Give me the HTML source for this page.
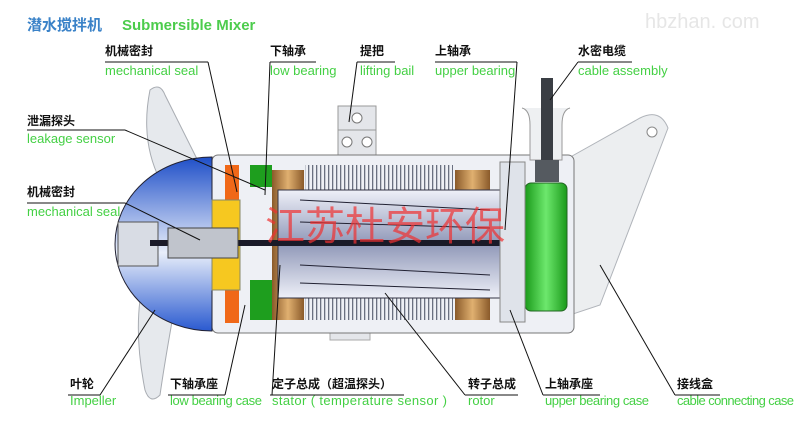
<!DOCTYPE html>
<html><head><meta charset="utf-8"><style>
html,body{margin:0;padding:0;background:#fff;}
svg{display:block}
.cn{font-family:"Liberation Sans","Noto Sans CJK SC",sans-serif;font-size:12px;font-weight:bold;fill:#111}
.en{font-family:"Liberation Sans",sans-serif;font-size:13px;fill:#44d044}
.ln{stroke:#111;stroke-width:1;fill:none}
</style></head><body>
<svg width="800" height="424" viewBox="0 0 800 424" xmlns="http://www.w3.org/2000/svg">
<defs>
<linearGradient id="blue" x1="0" y1="0" x2="0" y2="1">
<stop offset="0" stop-color="#1f4fc8"/><stop offset="0.55" stop-color="#e8eefa"/><stop offset="1" stop-color="#2a5ad0"/></linearGradient>
<linearGradient id="grn" x1="0" y1="0" x2="1" y2="0">
<stop offset="0" stop-color="#1a9a1a"/><stop offset="0.5" stop-color="#6de86d"/><stop offset="1" stop-color="#1a9a1a"/></linearGradient>
<linearGradient id="cu" x1="0" y1="0" x2="1" y2="0">
<stop offset="0" stop-color="#8a5a2a"/><stop offset="0.5" stop-color="#e0b070"/><stop offset="1" stop-color="#8a5a2a"/></linearGradient>
<linearGradient id="rot" x1="0" y1="0" x2="0" y2="1">
<stop offset="0" stop-color="#eef0f8"/><stop offset="0.5" stop-color="#9098b8"/><stop offset="1" stop-color="#eef0f8"/></linearGradient>
<pattern id="fin" width="4" height="10" patternUnits="userSpaceOnUse"><rect width="4" height="10" fill="#eef0f5"/><rect width="1.3" height="10" fill="#6a7080"/></pattern>
</defs>
<text x="645" y="28" font-family="Liberation Sans,sans-serif" font-size="20" fill="#e6e6e6">hbzhan. com</text>
<text x="27" y="30" font-family="Liberation Sans,'Noto Sans CJK SC',sans-serif" font-size="15" font-weight="bold" fill="#3a82c8">潜水搅拌机</text>
<text x="122" y="30" font-family="Liberation Sans,sans-serif" font-size="15" font-weight="bold" fill="#4ccc4c">Submersible Mixer</text>

<path d="M150,90 Q160,82 165,95 L200,165 L160,180 Q140,140 150,90Z" fill="#e6e9ed" stroke="#a8acb2"/>
<path d="M140,300 L175,305 Q165,360 160,395 Q150,405 145,390 Q135,340 140,300Z" fill="#e6e9ed" stroke="#a8acb2"/>
<path d="M565,160 L640,118 Q660,108 668,128 L600,305 L570,315Z" fill="#eceef0" stroke="#b0b4ba"/>
<circle cx="652" cy="132" r="5" fill="#fff" stroke="#888"/>
<rect x="338" y="106" width="38" height="50" fill="#e4e6ea" stroke="#999"/>
<line x1="338" y1="130" x2="376" y2="130" stroke="#999"/>
<circle cx="357" cy="118" r="5" fill="#fff" stroke="#777"/>
<circle cx="347" cy="142" r="5" fill="#fff" stroke="#777"/>
<circle cx="367" cy="142" r="5" fill="#fff" stroke="#777"/>
<rect x="330" y="330" width="40" height="10" fill="#e4e6ea" stroke="#aaa"/>
<rect x="212" y="155" width="362" height="178" rx="6" fill="#eef0f5" stroke="#777"/>
<path d="M212,157 A97,87 0 0 0 212,331 Z" fill="url(#blue)" stroke="#223"/>
<rect x="118" y="222" width="40" height="44" fill="#d8dce4" stroke="#555"/>
<rect x="225" y="165" width="14" height="158" fill="#f06818"/>
<rect x="212" y="200" width="28" height="90" fill="#f6c820" stroke="#886"/>
<rect x="250" y="165" width="22" height="22" fill="#1e9e1e"/>
<rect x="250" y="280" width="22" height="40" fill="#1e9e1e"/>
<rect x="272" y="170" width="32" height="150" fill="url(#cu)"/>
<rect x="455" y="170" width="35" height="150" fill="url(#cu)"/>
<rect x="305" y="165" width="148" height="25" fill="url(#fin)"/>
<rect x="305" y="290" width="148" height="30" fill="url(#fin)"/>
<rect x="278" y="190" width="222" height="108" fill="url(#rot)" stroke="#334"/>
<line x1="300" y1="200" x2="490" y2="210" stroke="#223"/>
<line x1="300" y1="222" x2="490" y2="228" stroke="#223"/>
<line x1="300" y1="265" x2="490" y2="275" stroke="#223"/>
<line x1="300" y1="283" x2="490" y2="290" stroke="#223"/>
<rect x="150" y="240" width="360" height="6" fill="#1a1a28"/>
<rect x="168" y="228" width="70" height="30" fill="#c0c4cc" stroke="#444"/>
<rect x="525" y="183" width="42" height="128" rx="6" fill="url(#grn)" stroke="#226622"/>
<rect x="500" y="162" width="25" height="160" fill="#dfe3ea" stroke="#888"/>
<path d="M522,108 Q530,110 530,125 L530,160 L562,160 L562,125 Q562,110 570,108" fill="#eef0f2" stroke="#999"/>
<rect x="541" y="78" width="12" height="90" fill="#3a3e44"/>
<rect x="535" y="160" width="24" height="22" fill="#555a60"/>
<text x="265" y="240" font-family="'Noto Sans CJK SC',sans-serif" font-size="40" fill="#f03030" fill-opacity="0.7">江苏杜安环保</text>

<text class="cn" x="105" y="55">机械密封</text><line class="ln" x1="105" y1="62" x2="208" y2="62"/><text class="en" x="105" y="75">mechanical seal</text>
<polyline class="ln" points="208,62 237,192"/>
<text class="cn" x="270" y="55">下轴承</text><line class="ln" x1="270" y1="62" x2="316" y2="62"/><text class="en" x="270" y="75">low bearing</text>
<polyline class="ln" points="270,62 265,195"/>
<text class="cn" x="360" y="55">提把</text><line class="ln" x1="357" y1="62" x2="395" y2="62"/><text class="en" x="360" y="75">lifting bail</text>
<polyline class="ln" points="357,62 349,122"/>
<text class="cn" x="435" y="55">上轴承</text><line class="ln" x1="435" y1="62" x2="517" y2="62"/><text class="en" x="435" y="75">upper bearing</text>
<polyline class="ln" points="517,62 505,230"/>
<text class="cn" x="578" y="55">水密电缆</text><line class="ln" x1="578" y1="62" x2="632" y2="62"/><text class="en" x="578" y="75">cable assembly</text>
<polyline class="ln" points="578,62 550,100"/>
<text class="cn" x="27" y="125">泄漏探头</text><line class="ln" x1="27" y1="130" x2="125" y2="130"/><text class="en" x="27" y="143">leakage sensor</text>
<polyline class="ln" points="125,130 265,190"/>
<text class="cn" x="27" y="196">机械密封</text><line class="ln" x1="27" y1="203" x2="125" y2="203"/><text class="en" x="27" y="216">mechanical seal</text>
<polyline class="ln" points="125,203 200,240"/>
<text class="cn" x="70" y="388">叶轮</text><line class="ln" x1="68" y1="395" x2="100" y2="395"/><text class="en" x="70" y="405">Impeller</text>
<polyline class="ln" points="100,395 155,310"/>
<text class="cn" x="170" y="388">下轴承座</text><line class="ln" x1="168" y1="395" x2="225" y2="395"/><text class="en" x="170" y="405" textLength="92">low bearing case</text>
<polyline class="ln" points="225,395 245,305"/>
<text class="cn" x="272" y="388">定子总成（超温探头）</text><line class="ln" x1="270" y1="395" x2="404" y2="395"/><text class="en" x="272" y="405" textLength="175">stator ( temperature sensor )</text>
<polyline class="ln" points="272,395 280,265"/>
<text class="cn" x="468" y="388">转子总成</text><line class="ln" x1="465" y1="395" x2="518" y2="395"/><text class="en" x="468" y="405">rotor</text>
<polyline class="ln" points="465,395 385,293"/>
<text class="cn" x="545" y="388">上轴承座</text><line class="ln" x1="543" y1="395" x2="600" y2="395"/><text class="en" x="545" y="405" textLength="104">upper bearing case</text>
<polyline class="ln" points="543,395 510,310"/>
<text class="cn" x="677" y="388">接线盒</text><line class="ln" x1="675" y1="395" x2="720" y2="395"/><text class="en" x="677" y="405" textLength="117">cable connecting case</text>
<polyline class="ln" points="675,395 600,265"/>
</svg>
</body></html>
